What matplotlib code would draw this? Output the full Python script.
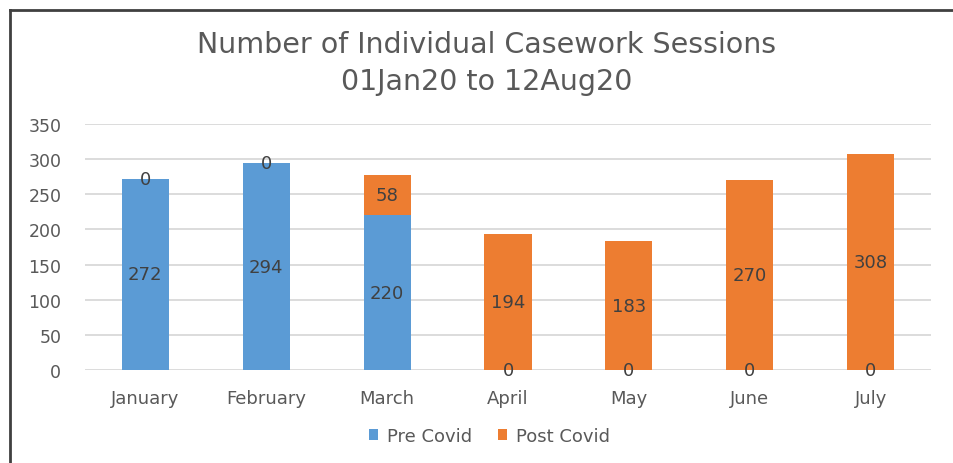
import matplotlib
matplotlib.use("Agg")
import matplotlib.pyplot as plt
from matplotlib.lines import Line2D
import numpy as np

plt.rcParams['font.family'] = ['DejaVu Sans']

months = ["January", "February", "March", "April", "May", "June", "July"]
pre_covid = [272, 294, 220, 0, 0, 0, 0]
post_covid = [0, 0, 58, 194, 183, 270, 308]
yticks = [0, 50, 100, 150, 200, 250, 300, 350]
title_lines = ["Number of Individual Casework Sessions", "01Jan20 to 12Aug20"]

blue = "#5B9BD5"
orange = "#ED7D31"
tick_col = "#595959"
lab_col = "#404040"

fig = plt.figure(figsize=(9.54, 4.64), dpi=100)
ax = fig.add_axes([0.089, 0.2004, 0.887, 0.5302])

x = np.arange(len(months))
w = 0.39
b1 = ax.bar(x, pre_covid, w, color=blue, label="Pre Covid", zorder=3)
b2 = ax.bar(x, post_covid, w, bottom=pre_covid, color=orange, label="Post Covid", zorder=3)

for i in range(len(months)):
    ax.text(x[i], pre_covid[i] / 2, str(pre_covid[i]), ha="center", va="center",
            fontsize=13, color=lab_col, zorder=4)
    ax.text(x[i], pre_covid[i] + post_covid[i] / 2, str(post_covid[i]), ha="center", va="center",
            fontsize=13, color=lab_col, zorder=4)

ax.set_ylim(0, 350)
ax.set_xlim(-0.5, len(months) - 0.5)
ax.set_yticks(yticks)
ax.set_xticks(x)
ax.set_xticklabels(months)
ax.yaxis.grid(True, color="#D9D9D9", linewidth=1.3, zorder=0)
ax.set_axisbelow(True)
for s in ax.spines.values():
    s.set_visible(False)
ax.tick_params(axis="both", length=0, labelsize=12.5, colors=tick_col)
ax.tick_params(axis="x", labelsize=13, pad=14)
ax.tick_params(axis="y", pad=17)

fig.text(0.510, 1 - 45 / 464, title_lines[0], ha="center", va="center", fontsize=20.5,
         color=tick_col)
fig.text(0.510, 1 - 82 / 464, title_lines[1], ha="center", va="center", fontsize=20.5,
         color=tick_col)

fig.legend(handles=[b1, b2], labels=["Pre Covid", "Post Covid"], loc="center",
           bbox_to_anchor=(0.513, 1 - 437 / 464), ncol=2, frameon=False, fontsize=13,
           handlelength=0.5, handleheight=0.5, handletextpad=0.5, columnspacing=1.4,
           labelcolor=tick_col)

fig.add_artist(Line2D([0.0105, 0.0105], [0, 0.977], transform=fig.transFigure,
                      color="#404040", linewidth=2))
fig.add_artist(Line2D([0.0105, 1.0], [0.977, 0.977], transform=fig.transFigure,
                      color="#404040", linewidth=2))

fig.savefig("out.png", dpi=100)
